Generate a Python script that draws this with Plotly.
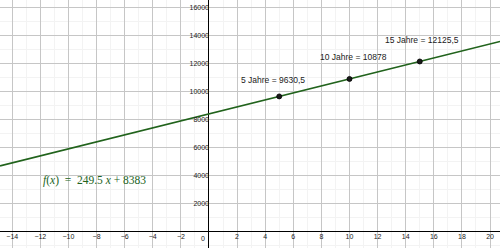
import plotly.graph_objects as go

# Data
years = [5, 10, 15]
values = [9630.5, 10878, 12125.5]
point_labels = ["5 Jahre = 9630,5", "10 Jahre = 10878", "15 Jahre = 12125,5"]
slope = 249.5
intercept = 8383
x_ticks = [-14, -12, -10, -8, -6, -4, -2, 2, 4, 6, 8, 10, 12, 14, 16, 18, 20]
y_ticks = [2000, 4000, 6000, 8000, 10000, 12000, 14000, 16000]
x_tick_text = [str(v).replace("-", "\u2212") for v in x_ticks]
y_tick_text = [str(v) for v in y_ticks]

x_range = [-14.87, 20.71]
y_range = [-1192, 16515]

green = "#21631c"

fig = go.Figure()

line_x = [x_range[0], x_range[1]]
line_y = [slope * v + intercept for v in line_x]
fig.add_trace(go.Scatter(x=line_x, y=line_y, mode="lines",
                         line=dict(color=green, width=1.6), hoverinfo="skip"))
fig.add_trace(go.Scatter(x=years, y=values, mode="markers",
                         marker=dict(color="#1a1a1a", size=5,
                                     line=dict(color="#000000", width=0.8))))

shifts = [(-40, 16), (-31.5, 22), (-37, 21)]
for xv, yv, t, (dx, dy) in zip(years, values, point_labels, shifts):
    fig.add_annotation(x=xv, y=yv, text=t, showarrow=False, xanchor="left",
                       yanchor="middle", xshift=dx, yshift=dy,
                       font=dict(family="Liberation Sans", size=8.5, color="#222222"))

fig.add_annotation(x=0, y=0, text="0", showarrow=False, xanchor="center",
                   yanchor="middle", xshift=-6, yshift=-7,
                   font=dict(family="Liberation Sans", size=7, color="#222222"))

fig.add_annotation(x=-11.96, y=3613, text="<i>f</i>(<i>x</i>)  =  249.5 <i>x</i> + 8383",
                   showarrow=False, xanchor="left", yanchor="middle",
                   font=dict(family="Liberation Serif", size=11.5, color=green))

ypos = (0 - y_range[0]) / (y_range[1] - y_range[0])
xpos = (0 - x_range[0]) / (x_range[1] - x_range[0])

fig.update_layout(
    width=500, height=248, margin=dict(l=0, r=0, t=0, b=0),
    paper_bgcolor="white", plot_bgcolor="white", showlegend=False,
    xaxis=dict(range=x_range, anchor="free", position=ypos,
               tickvals=x_ticks, ticktext=x_tick_text, ticks="", showline=False,
               zeroline=True, zerolinecolor="#000000", zerolinewidth=1,
               showgrid=True, gridcolor="#c6c6c6", gridwidth=1,
               minor=dict(dtick=1, showgrid=True, gridcolor="#f3f3f3"),
               tickfont=dict(family="Liberation Sans", size=7, color="#222222"),
               ticklabeloverflow="allow", fixedrange=True),
    yaxis=dict(range=y_range, anchor="free", position=xpos,
               tickvals=y_ticks, ticktext=y_tick_text, ticks="", showline=False,
               zeroline=True, zerolinecolor="#000000", zerolinewidth=1,
               showgrid=True, gridcolor="#c6c6c6", gridwidth=1,
               minor=dict(dtick=1000, showgrid=True, gridcolor="#f3f3f3"),
               tickfont=dict(family="Liberation Sans", size=7, color="#222222"),
               ticklabeloverflow="allow", fixedrange=True),
)

fig.write_html("out.html", config={"displayModeBar": False})
